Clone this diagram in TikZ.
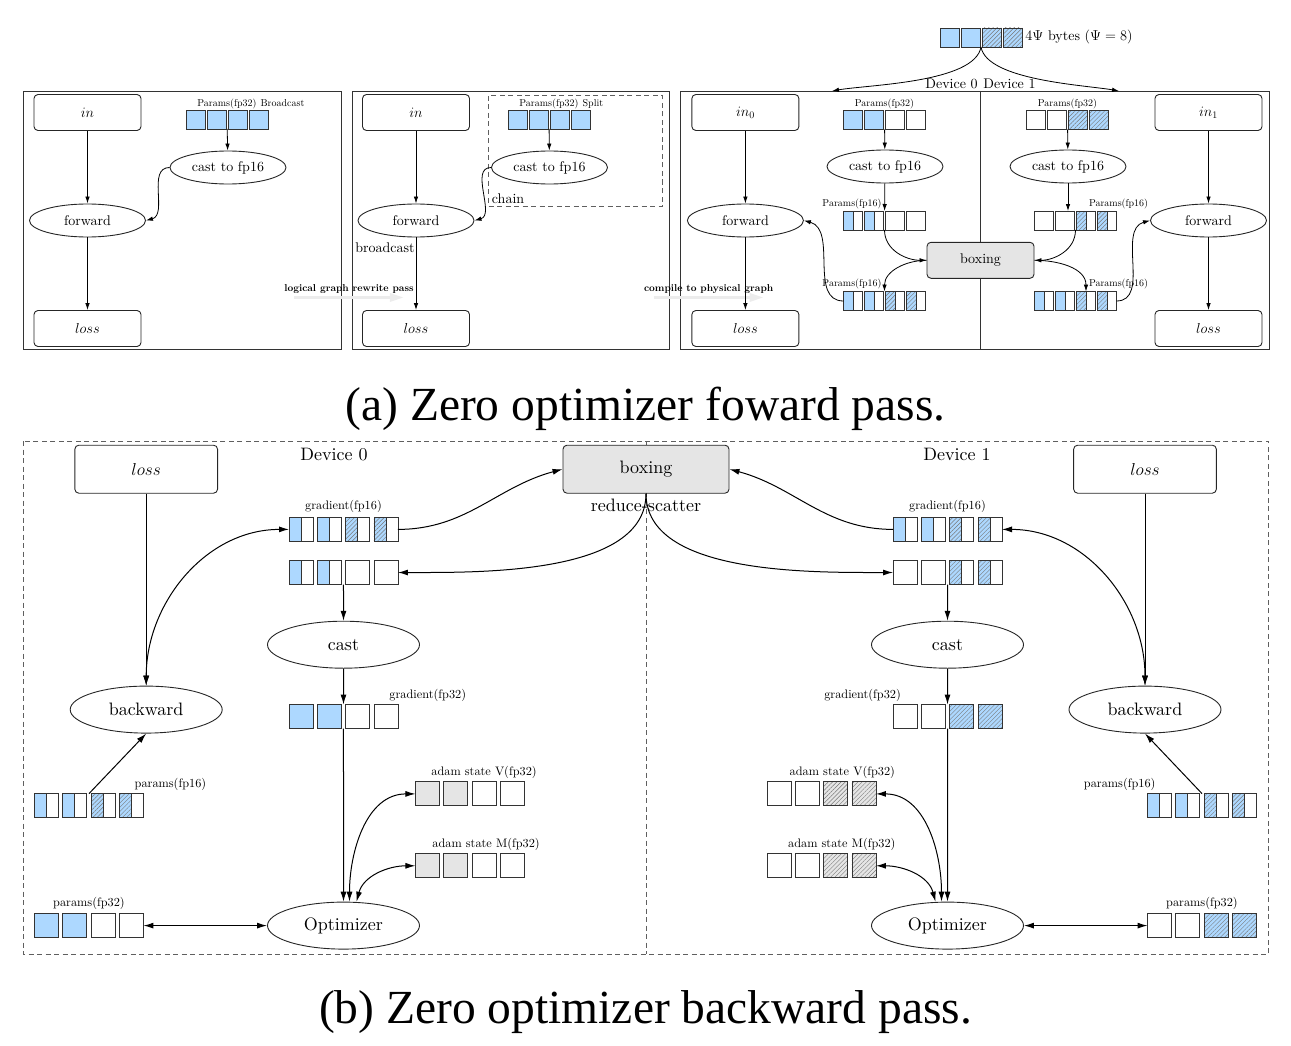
\documentclass[tikz,border=0pt]{standalone}
\usepackage{fontspec}
\setmainfont{lmroman10-regular.otf}[ItalicFont=lmroman10-italic.otf, BoldFont=lmroman10-bold.otf]
\newfontfamily\capfont{Liberation Serif}
\usepackage{tikz}
\usetikzlibrary{positioning,fit,calc,shapes.geometric,arrows.meta,patterns,patterns.meta}

\definecolor{cellblue}{RGB}{173,216,255}
\definecolor{boxgray}{RGB}{229,229,229}
\definecolor{hatchgray}{RGB}{120,120,120}
\definecolor{dashgray}{RGB}{95,95,95}

\newcommand{\fontA}{\fontsize{14}{17}\selectfont}
\newcommand{\fontAs}{\fontsize{10}{12}\selectfont}
\newcommand{\fontB}{\fontsize{18}{22}\selectfont}
\newcommand{\fontBs}{\fontsize{12.3}{15}\selectfont}

\tikzset{
  cellsize/.store in=\cellw, cellsize=19pt,
  hatching/.style={pattern={Lines[angle=45,distance=3pt,line width=0.4pt]}, pattern color=hatchgray},
  cell/.style={draw=black!80, line width=0.9pt, minimum size=\cellw, inner sep=0pt, outer sep=0pt},
  cfull/.style={cell, fill=cellblue},
  cempty/.style={cell, fill=white},
  cgray/.style={cell, fill=boxgray},
  chatch/.style={cell, fill=cellblue, path picture={
      \fill[hatching] (path picture bounding box.south west) rectangle (path picture bounding box.north east);}},
  cgrayhatch/.style={cell, fill=boxgray, path picture={
      \fill[hatching] (path picture bounding box.south west) rectangle (path picture bounding box.north east);}},
  chalf/.style={cell, fill=white, path picture={
      \fill[cellblue] (path picture bounding box.south west) rectangle (path picture bounding box.north);
      \draw[black!80, line width=0.9pt] (path picture bounding box.south) -- (path picture bounding box.north);}},
  chalfhatch/.style={cell, fill=white, path picture={
      \fill[cellblue] (path picture bounding box.south west) rectangle (path picture bounding box.north);
      \fill[hatching] (path picture bounding box.south west) rectangle (path picture bounding box.north);
      \draw[black!80, line width=0.9pt] (path picture bounding box.south) -- (path picture bounding box.north);}},
  opbox/.style={draw=black!85, line width=0.9pt, rounded corners=4pt, minimum width=107pt, minimum height=36pt, font=\fontA},
  opell/.style={draw=black!85, line width=0.9pt, ellipse, minimum width=116pt, minimum height=33pt, inner sep=0pt, font=\fontA},
  lbl/.style={font=\fontAs, inner sep=1pt},
  frame/.style={draw=black!80, line width=0.9pt},
  dashbox/.style={draw=dashgray, line width=1pt, dash pattern=on 5pt off 3.5pt},
  passlbl/.style={font=\fontAs\bfseries, inner sep=1pt},
  pass/.style={draw=gray!15, line width=3pt, -{Triangle[length=14pt,width=8pt]}},
  capstyle/.style={font=\capfont\fontsize{47.5}{57}\selectfont, inner sep=0pt},
}

% four cells in a row, then a fit node round them
\newcommand{\cellrow}[4]{%
  \foreach \s [count=\i] in {#4}
    \node[\s, anchor=west] (#1\i) at ($(#2)+({(\i-1)*#3},0)$) {};
  \node[fit=(#11)(#14), inner sep=0pt, outer sep=0pt] (#1) {};
}

\begin{document}
\begin{tikzpicture}[x=1pt, y=1pt, line width=0.8pt, >={Latex[length=7pt,width=4.5pt]}]
\useasboundingbox (0,0) rectangle (1291,-1046);

% (a) forward pass
\draw[frame] (23,-91) rectangle (341,-349);
\draw[frame] (352,-91) rectangle (669.5,-349);
\draw[frame] (680,-91) rectangle (1269,-349);
\coordinate (div) at (980.5,-91);
\coordinate (divbot) at (980.5,-349);
\draw[frame] (div) -- (divbot);

% logical graph
\node[opbox] (in1)   at (87.5,-112.5) {$in$};
\node[opell] (fwd1)  at (87.5,-220.5) {forward};
\node[opbox] (loss1) at (87.5,-328.5) {$loss$};
\node[opell] (cast1) at (228,-167.5)  {cast to fp16};
\cellrow{p1}{186,-119.5}{21}{cfull,cfull,cfull,cfull}
\node[lbl, above=0pt of p1] (lp1) {Params(fp32)};
\node[lbl, base right=1.3pt of lp1] (lp1b) {Broadcast};
\draw[->] (in1) -- (fwd1);
\draw[->] (fwd1) -- (loss1);
\draw[->] (p1) -- (cast1);
\draw[->] (cast1.west) to[out=180,in=15] (fwd1.east);

\node[passlbl] (rw) at (349,-289) {logical graph rewrite pass};
\draw[pass] ([xshift=11pt,yshift=-2.6pt]rw.south west) -- ([xshift=-11pt,yshift=-2.6pt]rw.south east);

% rewritten graph
\draw[dashbox] (488,-96) rectangle (662.5,-206);
\node[opbox] (in2)   at (416,-112.5) {$in$};
\node[opell] (fwd2)  at (416,-220.5) {forward};
\node[opbox] (loss2) at (416,-328.5) {$loss$};
\node[opell] (cast2) at (549.5,-167.5) {cast to fp16};
\cellrow{p2}{508,-119.5}{21}{cfull,cfull,cfull,cfull}
\node[lbl, above=0pt of p2] (lp2) {Params(fp32)};
\node[lbl, base right=1.3pt of lp2] (lp2b) {Split};
\node[font=\fontA, inner sep=1pt, anchor=west] (chain) at (490.5,-198.5) {chain};
\node[font=\fontA, inner sep=1pt, anchor=west] (bcast) at (354,-247.5) {broadcast};
\draw[->] (in2) -- (fwd2);
\draw[->] (fwd2) -- (loss2);
\draw[->] (p2) -- (cast2);
\draw[->] (cast2.west) to[out=180,in=15] (fwd2.east);

\node[passlbl] (cp) at (708.7,-289) {compile to physical graph};
\draw[pass] ([xshift=11pt,yshift=-2.6pt]cp.south west) -- ([xshift=-11pt,yshift=-2.6pt]cp.south east);

% physical graph
\cellrow{psi}{940,-37.5}{21}{cfull,cfull,chatch,chatch}
\node[font=\fontA, inner sep=1pt, right=2pt of psi] (psilbl) {$4\Psi$ bytes ($\Psi = 8$)};
\coordinate (dev0in) at (832,-91);
\coordinate (dev1in) at (1119,-91);
\node[font=\fontA, inner sep=1pt, above left=1.2pt and 1.4pt of div] (dev0) {Device 0};
\node[font=\fontA, inner sep=1pt, above right=1.2pt and 1.4pt of div] (dev1) {Device 1};
\draw[->] (psi.south) to[out=-100,in=10,looseness=0.6] (dev0in);
\draw[->] (psi.south) to[out=-80,in=170,looseness=0.6] (dev1in);

\node[opbox] (in3)   at (745.4,-112.5) {$in_0$};
\node[opell] (fwd3)  at (745.4,-220.5) {forward};
\node[opbox] (loss3) at (745.4,-328.5) {$loss$};
\node[opell] (cast3) at (885,-166.5) {cast to fp16};
\cellrow{d0a}{843.5,-120}{21}{cfull,cfull,cempty,cempty}
\node[lbl, above=0pt of d0a] (ld0a) {Params(fp32)};
\cellrow{d0b}{843.5,-220.5}{21}{chalf,chalf,cempty,cempty}
\node[lbl, anchor=south east] (ld0b) at ([shift={(-1.5pt,1pt)}]d0b.north) {Params(fp16)};
\cellrow{d0c}{843.5,-301}{21}{chalf,chalf,chalfhatch,chalfhatch}
\node[lbl, anchor=south east] (ld0c) at ([shift={(-1.5pt,1pt)}]d0c.north) {Params(fp16)};

\node[opbox, fill=boxgray] (boxA) at (980.5,-260.3) {boxing};

\node[opbox] (in4)   at (1208.5,-112.5) {$in_1$};
\node[opell] (fwd4)  at (1208.5,-220.5) {forward};
\node[opbox] (loss4) at (1208.5,-328.5) {$loss$};
\node[opell] (cast4) at (1068,-166.5) {cast to fp16};
\cellrow{d1a}{1026.5,-120}{21}{cempty,cempty,chatch,chatch}
\node[lbl, above=0pt of d1a] (ld1a) {Params(fp32)};
\cellrow{d1b}{1034.5,-220.5}{21}{cempty,cempty,chalfhatch,chalfhatch}
\node[lbl, anchor=south west] (ld1b) at ([shift={(1.6pt,1pt)}]d1b3.north) {Params(fp16)};
\cellrow{d1c}{1034.5,-301}{21}{chalf,chalf,chalfhatch,chalfhatch}
\node[lbl, anchor=south west] (ld1c) at ([shift={(1.6pt,1pt)}]d1c3.north) {Params(fp16)};

\draw[->] (in3) -- (fwd3);
\draw[->] (fwd3) -- (loss3);
\draw[->] (d0a) -- (cast3);
\draw[->] (cast3) -- (d0b);
\draw[->] (d0b.south) to[out=-90,in=180] (boxA.west);
\draw[->] (boxA.west) to[out=180,in=90] (d0c.north);
\draw[->] (d0c.west) to[out=180,in=-15] (fwd3.east);

\draw[->] (in4) -- (fwd4);
\draw[->] (fwd4) -- (loss4);
\draw[->] (d1a) -- (cast4);
\draw[->] (cast4.south) -- (cast4.south |- d1b.north);
\draw[->] (d1b.south) to[out=-90,in=0] (boxA.east);
\draw[->] (boxA.east) to[out=0,in=90] (d1c3.north);
\draw[->] (d1c.east) to[out=0,in=195] (fwd4.west);

\node[capstyle, anchor=base] (capa) at (645.5,-420) {(a) Zero optimizer foward pass.};

% (b) backward pass
\begin{scope}[cellsize=24pt, line width=1pt, >={Latex[length=10pt,width=6pt]},
  opbox/.append style={minimum width=142.7pt, minimum height=48pt, font=\fontB},
  opell/.append style={minimum width=152pt, minimum height=47pt, font=\fontB},
  lbl/.append style={font=\fontBs}]
\draw[dashbox] (23,-441) rectangle (1268.6,-954);
\coordinate (bdiv) at (646,-441);
\coordinate (bdivbot) at (646,-954);
\draw[dashbox] (bdiv) -- (bdivbot);

\node[opbox, fill=boxgray, minimum width=166pt] (boxB) at (646,-469.2) {boxing};
\node[font=\fontB, inner sep=1pt, below=4pt of boxB] (rs) {reduce-scatter};
\node[font=\fontB] (devb0) at (334,-454.3) {Device 0};
\node[font=\fontB] (devb1) at (957,-454.3) {Device 1};

% device 0
\node[opbox] (lossD0) at (146.2,-469.2) {$loss$};
\node[opell] (bwdD0)  at (146.2,-709.6) {backward};
\node[opell] (castD0) at (343.5,-644.7) {cast};
\node[opell] (optD0)  at (343.5,-925.6) {Optimizer};
\cellrow{g0a}{289,-529.4}{28.33}{chalf,chalf,chalfhatch,chalfhatch}
\node[lbl, above=3pt of g0a] (lg0a) {gradient(fp16)};
\cellrow{g0b}{289,-572.5}{28.33}{chalf,chalf,cempty,cempty}
\cellrow{g0c}{289,-716.5}{28.33}{cfull,cfull,cempty,cempty}
\node[lbl, anchor=south west] (lg0c) at ([shift={(-10pt,1.9pt)}]g0c.north east) {gradient(fp32)};
\cellrow{v0}{415.4,-793.9}{28.33}{cgray,cgray,cempty,cempty}
\node[lbl, anchor=south west] (lv0) at ([shift={(14.5pt,2.2pt)}]v0.north west) {adam state V(fp32)};
\cellrow{m0}{415.4,-865.8}{28.33}{cgray,cgray,cempty,cempty}
\node[lbl, anchor=south west] (lm0) at ([shift={(15.5pt,2.2pt)}]m0.north west) {adam state M(fp32)};
\cellrow{pf0}{34.5,-805.6}{28.33}{chalf,chalf,chalfhatch,chalfhatch}
\node[lbl, anchor=south west] (lpf0) at ([shift={(-10.3pt,1.9pt)}]pf0.north east) {params(fp16)};
\cellrow{pp0}{34.5,-925.6}{28.33}{cfull,cfull,cempty,cempty}
\node[lbl, above=3pt of pp0] (lpp0) {params(fp32)};

\draw[->] (lossD0) -- (bwdD0);
\draw[<->] (g0a.west) to[out=180,in=90] (bwdD0.north);
\draw[->] (g0a.east) to[out=0,in=195] (boxB.west);
\draw[->] (boxB.south) to[out=-90,in=0,looseness=0.8] (g0b.east);
\draw[->] (g0b) -- (castD0);
\draw[->] (castD0) -- (g0c);
\draw[->] (g0c) -- (optD0);
\draw[<->] (v0.west) to[out=180,in=90] ([xshift=6pt]optD0.north);
\draw[<->] (m0.west) to[out=180,in=75] ([xshift=13pt]optD0.north);
\draw[<->] (pp0) -- (optD0);
\draw[->] (pf0.north) -- (bwdD0.south);

% device 1
\node[opbox] (lossD1) at (1145,-469.2) {$loss$};
\node[opell] (bwdD1)  at (1145,-709.6) {backward};
\node[opell] (castD1) at (947.5,-644.7) {cast};
\node[opell] (optD1)  at (947.5,-925.6) {Optimizer};
\cellrow{g1a}{893,-529.4}{28.33}{chalf,chalf,chalfhatch,chalfhatch}
\node[lbl, above=3pt of g1a] (lg1a) {gradient(fp16)};
\cellrow{g1b}{893,-572.5}{28.33}{cempty,cempty,chalfhatch,chalfhatch}
\cellrow{g1c}{893,-716.5}{28.33}{cempty,cempty,chatch,chatch}
\node[lbl, anchor=south east] (lg1c) at ([shift={(9.4pt,1.9pt)}]g1c.north west) {gradient(fp32)};
\cellrow{v1}{767,-793.9}{28.33}{cempty,cempty,cgrayhatch,cgrayhatch}
\node[lbl, anchor=south east] (lv1) at ([shift={(20.5pt,2.2pt)}]v1.north east) {adam state V(fp32)};
\cellrow{m1}{767,-865.8}{28.33}{cempty,cempty,cgrayhatch,cgrayhatch}
\node[lbl, anchor=south east] (lm1) at ([shift={(21pt,2.2pt)}]m1.north east) {adam state M(fp32)};
\cellrow{pf1}{1147.5,-805.6}{28.33}{chalf,chalf,chalfhatch,chalfhatch}
\node[lbl, anchor=south east] (lpf1) at ([shift={(9.5pt,1.9pt)}]pf1.north west) {params(fp16)};
\cellrow{pp1}{1147.5,-925.6}{28.33}{cempty,cempty,chatch,chatch}
\node[lbl, above=3pt of pp1] (lpp1) {params(fp32)};

\draw[->] (lossD1) -- (bwdD1);
\draw[<->] (g1a.east) to[out=0,in=90] (bwdD1.north);
\draw[->] (g1a.west) to[out=180,in=-15] (boxB.east);
\draw[->] (boxB.south) to[out=-90,in=180,looseness=0.8] (g1b.west);
\draw[->] (g1b) -- (castD1);
\draw[->] (castD1) -- (g1c);
\draw[->] (g1c) -- (optD1);
\draw[<->] (v1.east) to[out=0,in=90] ([xshift=-6pt]optD1.north);
\draw[<->] (m1.east) to[out=0,in=105] ([xshift=-12pt]optD1.north);
\draw[<->] (pp1) -- (optD1);
\draw[->] (pf1.north) -- (bwdD1.south);
\end{scope}

\node[capstyle, anchor=base] (capb) at (645.5,-1023) {(b) Zero optimizer backward pass.};
\end{tikzpicture}
\end{document}
